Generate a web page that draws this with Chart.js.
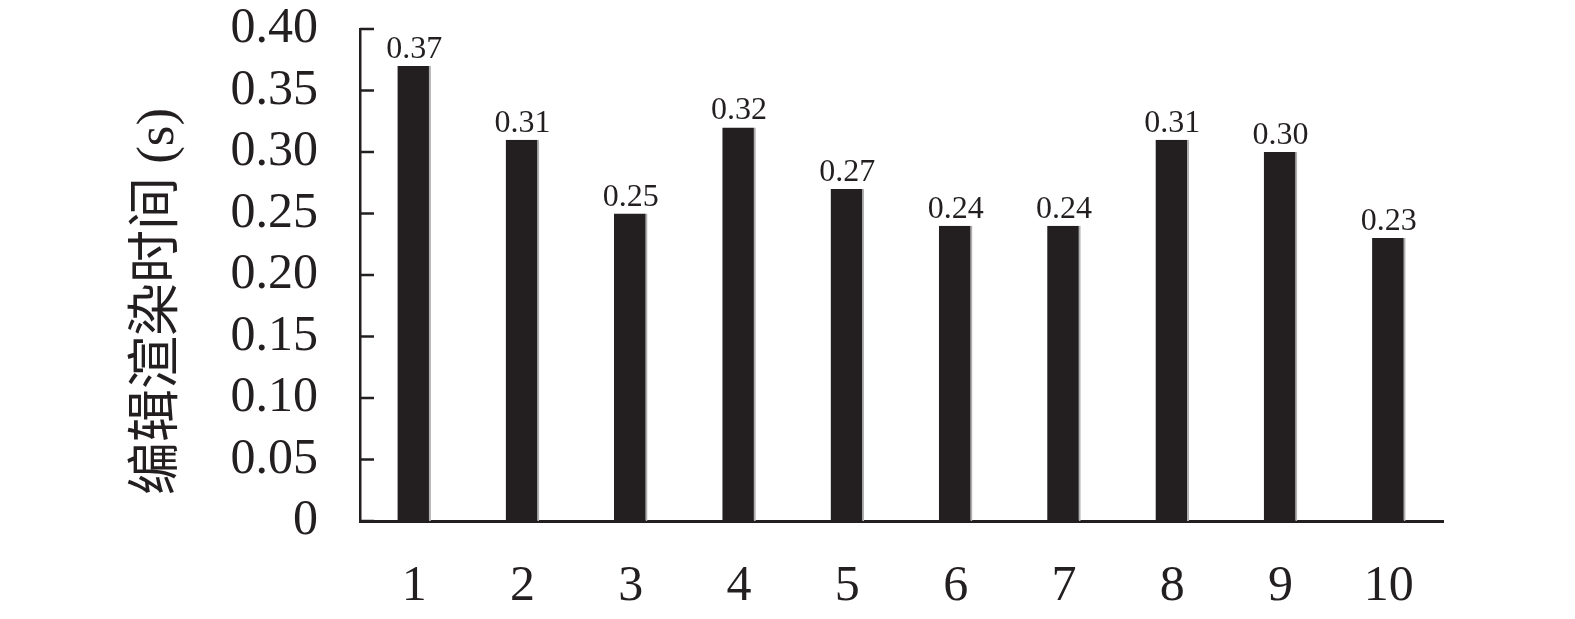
<!DOCTYPE html>
<html><head><meta charset="utf-8">
<script src="https://cdn.jsdelivr.net/npm/chart.js@4"></script>
<style>html,body{margin:0;padding:0;background:#fff}#wrap{width:1575px;height:619px}</style>
</head><body><div id="wrap"><canvas id="c" width="1575" height="619"></canvas></div>
<script>
const categories = ['1','2','3','4','5','6','7','8','9','10'];
const renderTimes = [0.37, 0.31, 0.25, 0.32, 0.27, 0.24, 0.24, 0.31, 0.30, 0.23];
const valueLabels = ['0.37','0.31','0.25','0.32','0.27','0.24','0.24','0.31','0.30','0.23'];
const yTickLabels = ['0','0.05','0.10','0.15','0.20','0.25','0.30','0.35','0.40'];
const yTitle = '编辑渲染时间 (s)';

const INK = '#231f20';
const serif = '"Liberation Serif", "Times New Roman", serif';

const innerTicks = {
  id: 'innerTicks',
  afterDraw(chart) {
    const y = chart.scales.y, ctx = chart.ctx;
    ctx.save();
    ctx.strokeStyle = INK; ctx.lineWidth = 2.5;
    y.ticks.forEach((t, i) => {
      const py = y.getPixelForTick(i);
      ctx.beginPath(); ctx.moveTo(y.right, py); ctx.lineTo(y.right + 14, py); ctx.stroke();
    });
    ctx.restore();
  }
};
const barLabels = {
  id: 'barLabels',
  afterDatasetsDraw(chart) {
    const ctx = chart.ctx, meta = chart.getDatasetMeta(0);
    ctx.save();
    ctx.fillStyle = INK; ctx.font = '32px ' + serif;
    ctx.textAlign = 'center'; ctx.textBaseline = 'alphabetic';
    meta.data.forEach((bar, i) => { ctx.fillText(valueLabels[i], bar.x, bar.y - 8); });
    ctx.restore();
  }
};

new Chart(document.getElementById('c'), {
  type: 'bar',
  data: { labels: categories, datasets: [{
    data: renderTimes, backgroundColor: INK,
    borderColor: '#b0b0b0', borderWidth: {top:0,left:0,bottom:0,right:2}, borderSkipped: false,
    barPercentage: 0.31, categoryPercentage: 1.0
  }]},
  options: {
    responsive: false, animation: false,
    layout: { padding: { left: 127, right: 132, top: 29, bottom: 0 } },
    plugins: { legend: { display: false }, tooltip: { enabled: false } },
    scales: {
      x: {
        grid: { display: false, drawTicks: false },
        border: { display: true, color: INK, width: 3 },
        ticks: { color: INK, font: { family: serif, size: 50 }, padding: 36, maxRotation: 0, autoSkip: false },
        afterFit(s) { s.height = 98; }
      },
      y: {
        min: 0, max: 0.4,
        grid: { display: false, drawTicks: false },
        border: { display: true, color: INK, width: 2.5 },
        ticks: { stepSize: 0.05, color: INK, font: { family: serif, size: 50, lineHeight: 1.0 }, padding: 42,
          autoSkip: false, callback: (v, i) => yTickLabels[i] },
        title: { display: true, text: yTitle + '    ', color: INK, padding: 0,
          font: { family: serif + ', "Noto Sans CJK SC"', size: 53 } },
        afterFit(s) { s.width = 233; s.paddingTop = 0; s.paddingBottom = 0; }
      }
    }
  },
  plugins: [innerTicks, barLabels]
});
</script></body></html>
